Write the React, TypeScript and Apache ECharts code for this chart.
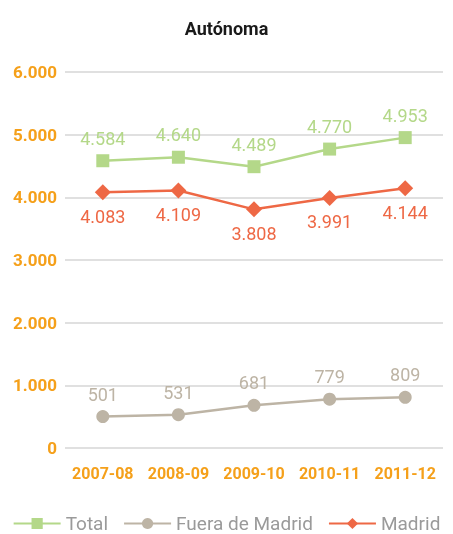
import React, { useEffect, useRef } from "react";
import * as echarts from "echarts";

const categories = ["2007-08", "2008-09", "2009-10", "2010-11", "2011-12"];
const totalValues = [4584, 4640, 4489, 4770, 4953];
const fueraValues = [501, 531, 681, 779, 809];
const madridValues = [4083, 4109, 3808, 3991, 4144];

const FONT = "Roboto, sans-serif";
const fmt = (v: number) => {
  const s = String(Math.round(v));
  return s.replace(/\B(?=(\d{3})+(?!\d))/g, ".");
};

export default function App() {
  const ref = useRef<HTMLDivElement>(null);
  useEffect(() => {
    const chart = echarts.init(ref.current!, undefined, { renderer: "svg" });
    const label = (color: string, position: string) => ({
      show: true,
      position,
      distance: 7,
      color,
      fontFamily: FONT,
      fontSize: 18,
      formatter: (p: any) => fmt(p.value),
    });
    chart.setOption({
      animation: false,
      textStyle: { fontFamily: FONT },
      title: {
        text: "Autónoma",
        left: "center",
        top: 14,
        textStyle: { fontFamily: FONT, fontSize: 18, fontWeight: "bold", color: "#1a1a1a" },
      },
      grid: { left: 65, right: 10, top: 72, bottom: 86 },
      legend: {
        top: 510,
        left: "center",
        padding: [4, 0, 0, 0],
        itemWidth: 47,
        itemHeight: 14,
        itemGap: 15,
        textStyle: { fontFamily: FONT, fontSize: 19, color: "#9a9a9a" },
        data: ["Total", "Fuera de Madrid", "Madrid"],
      },
      xAxis: {
        type: "category",
        data: categories,
        boundaryGap: true,
        axisLine: { show: false },
        axisTick: { show: false },
        axisLabel: { interval: 0, color: "#f5a01a", fontFamily: FONT, fontWeight: "bold", fontSize: 16, margin: 17 },
      },
      yAxis: {
        type: "value",
        min: 0,
        max: 6000,
        interval: 1000,
        axisLine: { show: false },
        axisTick: { show: false },
        axisLabel: {
          color: "#f5a01a",
          fontFamily: FONT,
          fontWeight: "bold",
          fontSize: 17,
          margin: 8,
          formatter: (v: number) => fmt(v),
        },
        splitLine: { lineStyle: { color: "#d6d6d6", width: 1.5 } },
      },
      series: [
        {
          name: "Total",
          type: "line",
          data: totalValues,
          symbol: "rect",
          symbolSize: 13,
          color: "#b4d889",
          lineStyle: { width: 2.5, color: "#b4d889" },
          itemStyle: { color: "#b4d889" },
          label: label("#b4d889", "top"),
        },
        {
          name: "Fuera de Madrid",
          type: "line",
          data: fueraValues,
          symbol: "circle",
          symbolSize: 13,
          color: "#bdb4a5",
          lineStyle: { width: 2.5, color: "#bdb4a5" },
          itemStyle: { color: "#bdb4a5" },
          label: label("#bdb4a5", "top"),
        },
        {
          name: "Madrid",
          type: "line",
          data: madridValues,
          symbol: "diamond",
          symbolSize: 16,
          color: "#ee6845",
          lineStyle: { width: 2.5, color: "#ee6845" },
          itemStyle: { color: "#ee6845" },
          label: label("#ee6845", "bottom"),
        },
      ],
    });
    return () => chart.dispose();
  }, []);
  return <div ref={ref} style={{ position: "fixed", left: 0, top: 0, width: 453, height: 534 }} />;
}
